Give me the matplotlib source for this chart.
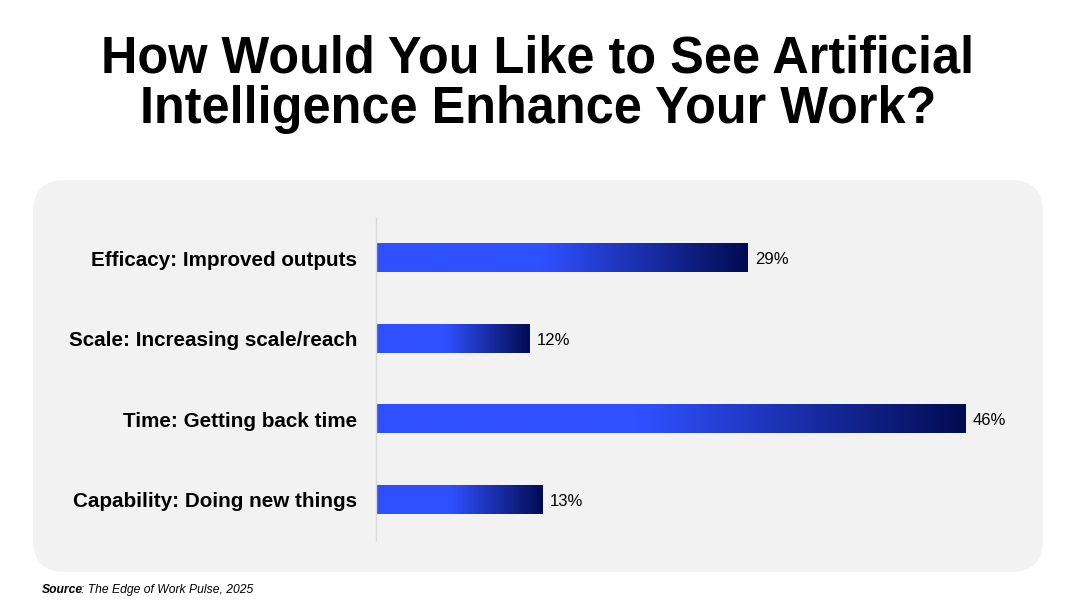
import numpy as np
import matplotlib.pyplot as plt
from matplotlib.patches import FancyBboxPatch
from matplotlib.colors import LinearSegmentedColormap

categories = ['Efficacy: Improved outputs', 'Scale: Increasing scale/reach',
              'Time: Getting back time', 'Capability: Doing new things']
values = [29, 12, 46, 13]
title = 'How Would You Like to See Artificial\nIntelligence Enhance Your Work?'

plt.rcParams['font.family'] = ['Liberation Sans', 'DejaVu Sans']

fig = plt.figure(figsize=(10.8, 6.05), dpi=100)
fig.patch.set_facecolor('white')

# background axes in pixel units for the rounded panel
bg = fig.add_axes([0, 0, 1, 1])
bg.set_xlim(0, 1080)
bg.set_ylim(605, 0)
bg.axis('off')
panel = FancyBboxPatch((33, 180), 1010, 392, boxstyle='round,pad=0,rounding_size=32',
                       facecolor='#f2f2f2', edgecolor='none')
bg.add_patch(panel)
bg.text(538, 84, title, ha='center', va='center', fontsize=36.4, fontweight='bold',
        linespacing=1.05, color='black')
bg.text(42, 590, 'Source', ha='left', va='center', fontsize=8.7, fontweight='bold',
        style='italic')
bg.text(81, 590, ': The Edge of Work Pulse, 2025', ha='left', va='center', fontsize=8.7,
        style='italic')

# bar axes
ax = fig.add_axes([376 / 1080, 1 - 540 / 605, 641 / 1080, 322 / 605])
ax.set_facecolor('none')
for s in ['top', 'right', 'bottom']:
    ax.spines[s].set_visible(False)
ax.spines['left'].set_color('#d9d9d9')
ax.spines['left'].set_linewidth(1)
ax.set_xticks([])
ax.set_yticks(range(len(categories)))
ax.set_yticklabels(categories, fontsize=14.9, fontweight='bold')
ax.tick_params(axis='y', length=0, pad=13.5)

cmap = LinearSegmentedColormap.from_list('blu', [(0, '#3050ff'), (0.45, '#3050ff'),
                                                  (1, '#020c52')])
grad = np.linspace(0, 1, 256).reshape(1, -1)
h = 0.35
for i, v in enumerate(values):
    ax.imshow(grad, cmap=cmap, aspect='auto', extent=(0, v, i + h / 2, i - h / 2),
              interpolation='bicubic', zorder=2)
    ax.text(v + 0.55, i + 0.02, f'{v}%', va='center', ha='left', fontsize=12)
ax.set_xlim(0, 50)
ax.set_ylim(3.5, -0.5)

fig.savefig('out.png', dpi=100, facecolor='white')
